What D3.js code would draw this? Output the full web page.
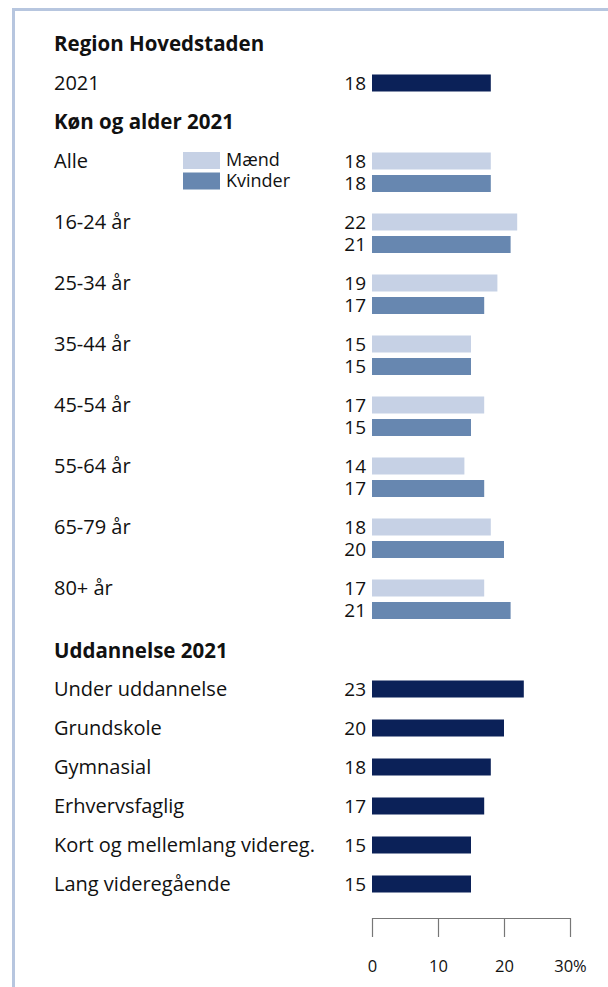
<!DOCTYPE html>
<html><head><meta charset="utf-8">
<script src="https://cdn.jsdelivr.net/npm/d3@7"></script>
<style>
html,body{margin:0;padding:0;background:#fff;}
svg{display:block;font-family:"Open Sans","Noto Sans",sans-serif;}
</style></head>
<body>
<svg id="chart" width="608" height="987"></svg>
<script>
// Region total
const totalLabel = "2021";
const totalValue = 18;

// Gender and age
const ageGroups = ["Alle","16-24 år","25-34 år","35-44 år","45-54 år","55-64 år","65-79 år","80+ år"];
const menValues   = [18,22,19,15,17,14,18,17];
const womenValues = [18,21,17,15,15,17,20,21];
const seriesNames = ["Mænd","Kvinder"];

// Education
const eduGroups = ["Under uddannelse","Grundskole","Gymnasial","Erhvervsfaglig","Kort og mellemlang videreg.","Lang videregående"];
const eduValues = [23,20,18,17,15,15];

const tickValues = [0,10,20,30];
const tickLabels = ["0","10","20","30%"];

const colDark = "#0b2158", colMen = "#c6d1e5", colWomen = "#6787b0", colBorder = "#b7c6df";

const svg = d3.select("#chart");
const x = d3.scaleLinear().domain([0,30]).range([372,570]);
const barH = 17;
const labelX = 54, valueX = 366;

// frame lines
svg.append("rect").attr("x",12).attr("y",8).attr("width",596).attr("height",3).attr("fill",colBorder);
svg.append("rect").attr("x",12).attr("y",8).attr("width",3).attr("height",979).attr("fill",colBorder);

function text(t, xx, yy, opts={}){
  return svg.append("text").attr("x",xx).attr("y",yy).attr("dy","0.35em")
    .attr("font-size",opts.size||20).attr("font-weight",opts.bold?700:400)
    .attr("text-anchor",opts.anchor||"start").attr("fill","#111").text(t);
}
function bar(v, cy, color){
  svg.append("rect").attr("x",x(0)).attr("y",cy-barH/2).attr("width",x(v)-x(0)).attr("height",barH).attr("fill",color);
  text(v, valueX, cy, {anchor:"end", size:19});
}

// headers
text("Region Hovedstaden", labelX, 44, {bold:true, size:20.5});
text(totalLabel, labelX, 83);
bar(totalValue, 83, colDark);
text("Køn og alder 2021", labelX, 122, {bold:true, size:20.5});

// gender & age groups
const ageY = d3.scaleLinear().domain([0,ageGroups.length-1]).range([161,588]);
ageGroups.forEach((g,i)=>{
  const cy = ageY(i);
  text(g, labelX, cy);
  bar(menValues[i], cy, colMen);
  bar(womenValues[i], cy+22.5, colWomen);
});

// legend
[colMen,colWomen].forEach((c,i)=>{
  svg.append("rect").attr("x",183).attr("y",152+i*20.5).attr("width",37).attr("height",17).attr("fill",c);
  text(seriesNames[i], 226, 160+i*20.5, {size:18});
});

// education
text("Uddannelse 2021", labelX, 651, {bold:true, size:20.5});
const eduY = d3.scaleLinear().domain([0,eduGroups.length-1]).range([689,884]);
eduGroups.forEach((g,i)=>{
  const cy = eduY(i);
  text(g, labelX, cy);
  bar(eduValues[i], cy, colDark);
});

// axis
const axis = d3.axisBottom(x).tickValues(tickValues).tickSize(19).tickSizeOuter(0)
  .tickFormat((d,i)=>tickLabels[i]);
const ag = svg.append("g").attr("transform","translate(0,918)").call(axis);
ag.select(".domain").attr("stroke","#777").attr("stroke-width",1.2);
ag.selectAll(".tick line").attr("stroke","#777").attr("stroke-width",1.2);
ag.selectAll(".tick text").attr("font-size",16.5).attr("font-family","'Open Sans','Noto Sans',sans-serif")
  .attr("fill","#111").attr("y",48).attr("dy","0.35em");
</script>
</body></html>
